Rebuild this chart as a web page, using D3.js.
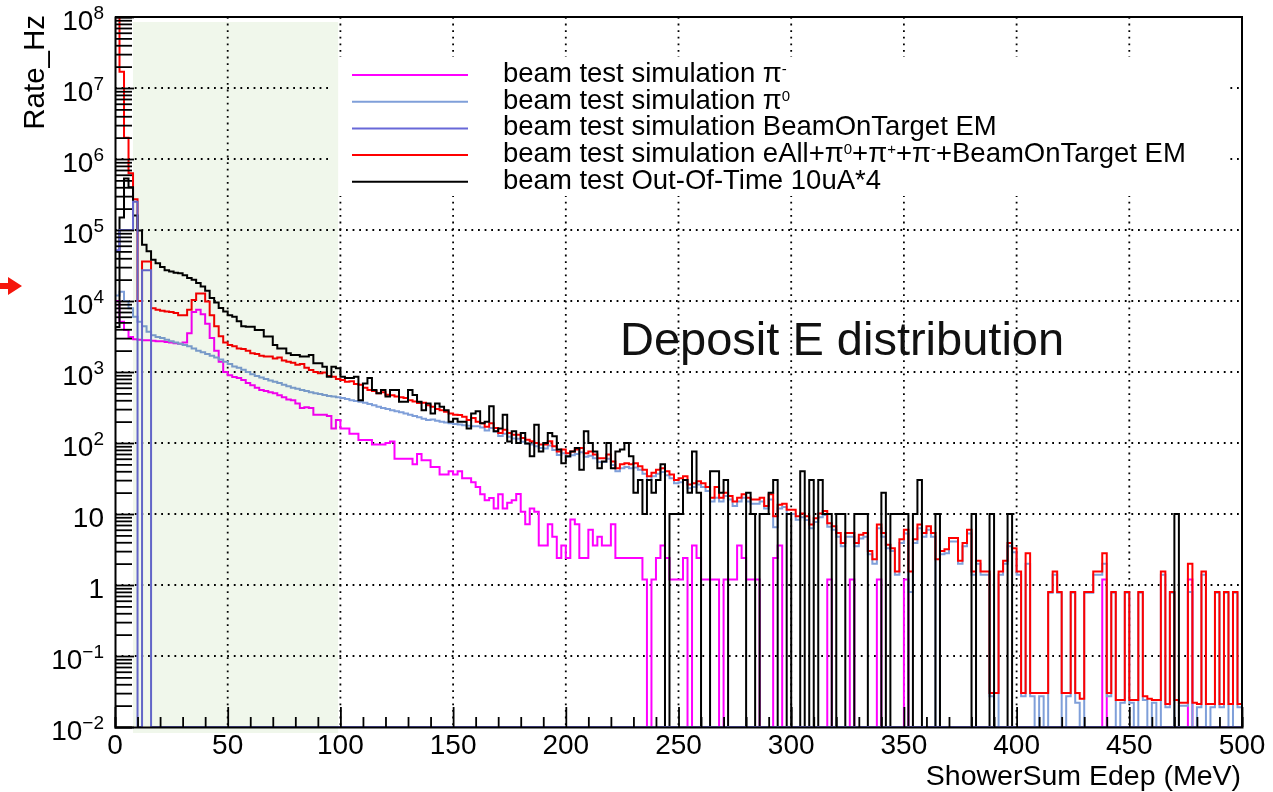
<!DOCTYPE html>
<html>
<head>
<meta charset="utf-8">
<script src="https://cdn.jsdelivr.net/npm/d3@7"></script>
<style>
  body { margin: 0; background: #fff; }
  svg { display: block; font-family: "Liberation Sans", Arial, sans-serif; }
</style>
</head>
<body>
<svg width="1273" height="792"></svg>
<script>
// histogram binning (MeV)
var binWidth = 2;

// beam test simulation pi-
var piMinus = [
  1.0e4, 5.1e3, 3.9e3, 3.1e3, 2.9e3, 2.85e3, 2.8e3, 2.8e3, 2.75e3, 2.7e3,
  2.7e3, 2.65e3, 2.6e3, 2.55e3, 2.5e3, 2.6e3, 3.5e3, 7.0e3, 7.5e3, 6.5e3,
  4.8e3, 3.0e3, 2.0e3, 1.4e3, 1.0e3, 900, 850, 820, 770, 700,
  650, 600, 560, 540, 520, 500, 470, 440, 410, 400,
  360, 310, 320, 310, 250, 250, 250, 240, 160, 210,
  160, 160, 135, 135, 110, 110, 110, 95, 95, 95,
  100, 105, 60, 60, 60, 60, 50, 70, 57, 57,
  46, 46, 36, 36, 40, 36, 40, 32, 32, 28,
  24, 19, 15.6, 16.8, 12, 19, 12, 14.4, 15.6, 19.2,
  10.8, 7.2, 12, 10.8, 3.6, 3.6, 7.2, 4.8, 2.4, 3.6,
  2.4, 8.4, 7.2, 2.4, 2.4, 6.0, 3.6, 4.8, 3.6, 3.6,
  7.2, 2.4, 2.4, 2.4, 2.4, 2.4, 2.4, 1.2, 0, 1.2,
  2.4, 3.6, 2.4, 1.2, 1.2, 1.2, 2.4, 0, 3.6, 2.4,
  1.2, 1.2, 1.2, 1.2, 0, 1.2, 1.2, 1.2, 3.6, 2.4,
  1.2, 1.2, 1.2, 0, 0, 0, 2.4, 3.6, 0, 0,
  0, 0, 0, 0, 0, 0, 0, 0, 1.2, 0,
  0, 0, 0, 1.2, 0, 0, 0, 0, 0, 1.2,
  0, 0, 0, 0, 0, 1.2, 0, 0, 0, 0,
  0, 0, 0, 0, 0, 0, 0, 0, 0, 0,
  0, 0, 0, 0, 0, 0, 0, 0, 0, 0,
  0, 0, 0, 0, 0, 0, 0, 0, 0, 0,
  0, 0, 0, 0, 0, 0, 0, 0, 0, 1.2,
  0, 0, 0, 0, 0, 0, 0, 0, 0, 0,
  0, 0, 0, 0, 0, 0, 0, 0, 1.2, 0,
  0, 0, 0, 0, 0, 0, 0, 0, 0, 0
];

// beam test simulation pi0
var piZero = [
  1.2e4, 1.35e4, 1.0e4, 7.9e3, 6.0e3, 5.1e3, 4.4e3, 3.7e3, 3.3e3, 3.1e3,
  3.0e3, 2.85e3, 2.7e3, 2.6e3, 2.5e3, 2.4e3, 2.3e3, 2.15e3, 2.0e3, 1.9e3,
  1.8e3, 1.7e3, 1.6e3, 1.5e3, 1.4e3, 1.3e3, 1.2e3, 1.15e3, 1.08e3, 1.0e3,
  930, 880, 840, 800, 760, 730, 700, 660, 630, 600,
  580, 560, 540, 520, 500, 490, 475, 460, 450, 440,
  430, 415, 400, 390, 380, 370, 355, 340, 325, 310,
  300, 290, 280, 270, 260, 250, 240, 230, 220, 210,
  215, 205, 200, 195, 190, 185, 182, 178, 175, 172,
  172, 165, 150, 162, 145, 125, 135, 122, 116, 115,
  104, 98, 95, 90, 85, 84, 92, 80, 68, 72,
  64, 67, 70, 74, 64, 66, 61, 54, 54, 60,
  49, 40, 44, 46, 44, 45, 42, 37, 30, 34,
  37, 39, 35, 32, 27, 28, 30, 23, 24, 26,
  24, 21, 15, 17, 15, 18, 16, 13, 15, 17,
  15, 14, 14, 15, 12, 16, 6.5, 12, 12.5, 10,
  10, 8.3, 9, 8.2, 6.3, 7.7, 9, 9.7, 6.6, 6.0,
  4.8, 3.5, 4.8, 4.8, 3.5, 4.5, 4.8, 2.7, 2.0, 6.3,
  4.8, 3.3, 3.0, 1.4, 3.9, 5.3, 0.8, 3.9, 6.3, 4.8,
  6.0, 4.8, 0, 2.7, 2.8, 4.1, 4.1, 2.0, 3.5, 5.3,
  1.4, 2.0, 1.4, 1.4, 0.027, 0, 1.4, 2.0, 3.5, 2.9,
  1.4, 0.027, 2.0, 0.027, 0, 0.027, 0, 0.78, 1.4, 0.78,
  0, 0.027, 0.78, 0.022, 0, 0.78, 0.78, 1.4, 1.4, 2.0,
  0.027, 0.78, 0, 0.022, 0.78, 0.022, 0, 0.78, 0.024, 0,
  0.022, 0, 1.4, 0.019, 0.78, 0, 0.02, 0.02, 0.8, 0,
  0.019, 1.4, 0, 0.019, 0.78, 0.019, 0.78, 0, 0.78, 0.019
];

// beam test simulation BeamOnTarget EM
var beamOnTarget = [
  5.2e4, 1e5, 1e5, 1e5, 2.5e5, 0, 2.7e4, 2.7e4, 0, 0
].concat(d3.range(240).map(function() { return 0; }));

// beam test simulation eAll+pi0+pi+ +pi- +BeamOnTarget EM
var sumAll = [
  3e8, 1.7e7, 2.0e6, 6.3e5, 2.7e5, 1.0e4, 3.6e4, 3.6e4, 7.9e3, 7.5e3,
  7.3e3, 7.1e3, 7.0e3, 6.8e3, 6.3e3, 6.3e3, 7.5e3, 1.03e4, 1.28e4, 1.28e4,
  9.8e3, 6.3e3, 4.4e3, 3.2e3, 2.6e3, 2.4e3, 2.3e3, 2.15e3, 2.1e3, 2.0e3,
  1830, 1800, 1700, 1650, 1650, 1550, 1600, 1450, 1400, 1350,
  1260, 1300, 1150, 1070, 1000, 960, 980, 880, 860, 800,
  770, 730, 740, 680, 660, 600, 560, 540, 500, 520,
  480, 470, 450, 440, 430, 400, 385, 365, 370, 340,
  325, 300, 290, 275, 260, 250, 248, 235, 210, 225,
  200, 190, 170, 190, 163, 138, 154, 138, 131, 131,
  118, 111, 106, 100, 95, 95, 106, 90, 76, 81,
  72, 76, 81, 85, 72, 76, 69, 61, 61, 69,
  55, 44, 50, 52, 50, 52, 47, 42, 34, 38,
  42, 44, 40, 36, 30, 32, 34, 26, 27, 29,
  27, 24, 17, 24, 17, 20, 18, 15, 17, 19,
  17, 16, 16, 17, 13, 19, 9.3, 13.5, 14, 11.5,
  11.5, 9.3, 10.2, 9.3, 7.1, 8.7, 10.2, 11, 7.4, 6.7,
  5.4, 3.9, 5.4, 5.4, 3.9, 5.1, 5.4, 3.0, 2.3, 7.1,
  5.4, 3.7, 3.3, 1.55, 4.4, 6.0, 1.55, 4.4, 7.1, 5.4,
  6.7, 5.4, 2.3, 3.0, 3.2, 4.6, 4.6, 2.2, 3.9, 6.0,
  1.55, 2.2, 1.55, 1.55, 0.03, 0.03, 1.55, 2.2, 3.9, 3.3,
  1.55, 0.03, 2.8, 0.03, 0.03, 0.03, 0.03, 0.8, 1.55, 0.8,
  0.03, 0.03, 0.8, 0.03, 0.025, 0.8, 0.8, 1.55, 1.55, 2.8,
  0.03, 0.8, 0.024, 0.024, 0.8, 0.024, 0.024, 0.8, 0.027, 0.025,
  0.024, 0.024, 1.55, 0.021, 0.8, 0.024, 0.022, 0.022, 2.0, 0.022,
  0.021, 1.55, 0.021, 0.021, 0.8, 0.021, 0.8, 0.021, 0.8, 0.021
];

// beam test Out-Of-Time 10uA*4
var outOfTime = [
  4.3e3, 1.5e5, 5.3e5, 4.0e5, 1.6e5, 9.8e4, 6.2e4, 5.0e4, 3.8e4, 3.4e4,
  3.0e4, 2.7e4, 2.6e4, 2.5e4, 2.45e4, 2.3e4, 2.1e4, 2.0e4, 1.8e4, 1.6e4,
  1.4e4, 1.1e4, 9.5e3, 8.0e3, 7.1e3, 6.3e3, 6.0e3, 5.2e3, 4.4e3, 4.35e3,
  4350, 3900, 3900, 3150, 3150, 2400, 2150, 2150, 1830, 1740,
  1740, 1650, 1650, 1740, 1330, 1330, 1190, 860, 1190, 1130,
  860, 820, 820, 860, 400, 690, 820, 560, 500, 560,
  450, 560, 560, 380, 380, 560, 475, 380, 290, 360,
  260, 360, 325, 290, 200, 220, 200, 200, 160, 260,
  280, 190, 200, 330, 146, 160, 250, 105, 146, 100,
  138, 98, 65, 181, 76, 100, 138, 124, 81, 52,
  65, 76, 85, 42, 146, 100, 76, 44, 55, 100,
  44, 76, 81, 100, 65, 20, 30, 10, 30, 20,
  30, 50, 0, 10, 10, 10, 30, 20, 76, 20,
  0, 0, 40, 40, 20, 30, 0, 0, 0, 0,
  20, 10, 0, 10, 10, 20, 30, 0, 0, 10,
  0, 0, 40, 0, 30, 0, 30, 10, 10, 0,
  10, 10, 0, 0, 10, 10, 10, 0, 0, 0,
  20, 0, 10, 10, 10, 10, 0, 10, 30, 0,
  0, 0, 10, 0, 0, 0, 0, 0, 0, 0,
  10, 0, 0, 0, 10, 0, 0, 0, 10, 0,
  0, 0, 0, 0, 0, 0, 0, 0, 0, 0,
  0, 0, 0, 0, 0, 0, 0, 0, 0, 0,
  0, 0, 0, 0, 0, 0, 0, 0, 0, 0,
  0, 0, 0, 0, 0, 10, 0, 0, 0, 0,
  0, 0, 0, 0, 0, 0, 0, 0, 0, 0
];

var legendLabels = [
  "beam test simulation π^{-}",
  "beam test simulation π^{0}",
  "beam test simulation BeamOnTarget EM",
  "beam test simulation eAll+π^{0}+π^{+}+π^{-}+BeamOnTarget EM",
  "beam test Out-Of-Time 10uA*4"
];
var xTicks = [0, 50, 100, 150, 200, 250, 300, 350, 400, 450, 500];
var yDecades = [1e-2, 1e-1, 1, 10, 1e2, 1e3, 1e4, 1e5, 1e6, 1e7, 1e8];
var yTickLabels = ["10^{−2}", "10^{−1}", "1", "10", "10^{2}", "10^{3}", "10^{4}", "10^{5}", "10^{6}", "10^{7}", "10^{8}"];
var highlight = [8, 99];   // shaded band, MeV

var svg = d3.select("svg");

var x = d3.scaleLinear().domain([0, 500]).range([115, 1242]);
var y = d3.scaleLog().domain([1e-2, 1e8]).range([727, 17]);
var yBottom = y(1e-2);
function yOf(v) { return v > 1e-2 ? y(v) : yBottom; }

// write "a^{b}" style labels as tspans
function richText(sel, label, supSize, supShift) {
  var parts = label.split(/(\^\{[^}]*\})/).filter(function(p) { return p.length; });
  var raised = false;
  parts.forEach(function(p) {
    var isSup = p.charAt(0) === "^";
    var t = sel.append("tspan").text(isSup ? p.slice(2, -1) : p);
    if (isSup) {
      t.attr("font-size", supSize).attr("dy", -supShift);
      raised = true;
    } else if (raised) {
      t.attr("dy", supShift);
      raised = false;
    }
  });
}

svg.append("defs").append("clipPath").attr("id", "plotclip")
  .append("rect")
  .attr("x", x(0)).attr("y", y(1e8) - 1)
  .attr("width", x(500) - x(0)).attr("height", yBottom - y(1e8) + 2);

// grid
var grid = svg.append("g")
  .attr("stroke", "#000").attr("stroke-width", 1.8)
  .attr("stroke-dasharray", "1.8 4.8").attr("fill", "none");
grid.selectAll(".gx").data(xTicks.slice(1, -1)).enter().append("line")
  .attr("x1", function(d) { return x(d); }).attr("x2", function(d) { return x(d); })
  .attr("y1", y(1e8)).attr("y2", yBottom);
grid.selectAll(".gy").data(yDecades.slice(1, -1)).enter().append("line")
  .attr("x1", x(0)).attr("x2", x(500))
  .attr("y1", function(d) { return y(d); }).attr("y2", function(d) { return y(d); });

// histograms
var series = [
  { values: piMinus, color: "#ff00ff" },
  { values: piZero, color: "#7f9fd9" },
  { values: sumAll, color: "#ff0000" },
  { values: outOfTime, color: "#000000" },
  { values: beamOnTarget, color: "#6868d8" }
];
var legendColors = ["#ff00ff", "#7f9fd9", "#6868d8", "#ff0000", "#000000"];

function stepPoints(vals) {
  var pts = [[x(0), yBottom]];
  vals.forEach(function(v, i) {
    var yy = yOf(v);
    pts.push([x(i * binWidth), yy], [x((i + 1) * binWidth), yy]);
  });
  pts.push([x(vals.length * binWidth), yBottom]);
  return pts;
}

var line = d3.line();
svg.append("g").attr("clip-path", "url(#plotclip)")
  .selectAll("path").data(series).enter().append("path")
  .attr("d", function(d) { return line(stepPoints(d.values)); })
  .attr("fill", "none")
  .attr("stroke", function(d) { return d.color; })
  .attr("stroke-width", 2)
  .attr("stroke-linejoin", "miter");

// legend
var lg = svg.append("g");
lg.append("rect").attr("x", 328).attr("y", 57).attr("width", 900).attr("height", 139).attr("fill", "#fff");
legendLabels.forEach(function(lab, i) {
  var ly = 75 + i * 26.7;
  lg.append("line").attr("x1", 352).attr("x2", 468).attr("y1", ly).attr("y2", ly)
    .attr("stroke", legendColors[i]).attr("stroke-width", 2);
  var t = lg.append("text").attr("x", 503).attr("y", ly + 7)
    .attr("font-size", 27.5).attr("fill", "#000");
  richText(t, lab, 15, 8);
});

// shaded band
svg.append("rect")
  .attr("x", x(highlight[0])).attr("width", x(highlight[1]) - x(highlight[0]))
  .attr("y", y(1e8) + 5).attr("height", yBottom - y(1e8) + 1)
  .attr("fill", "#f0f7eb")
  .style("mix-blend-mode", "multiply");

// axes
var yAxis = d3.axisLeft(y)
  .tickValues(d3.range(-2, 8).reduce(function(a, e) {
    for (var m = 1; m <= 9; m++) a.push(m * Math.pow(10, e));
    return a;
  }, []).concat([1e8]))
  .tickSize(-17).tickPadding(0).tickFormat("");
svg.append("g").attr("transform", "translate(" + x(0) + ",0)").call(yAxis)
  .call(function(g) {
    g.select(".domain").attr("stroke-width", 2);
    g.selectAll(".tick line").attr("stroke-width", 1.8)
      .attr("x2", function(d) { return Math.abs(Math.log10(d) - Math.round(Math.log10(d))) < 1e-9 ? 19 : 17; });
  });

var xAxis = d3.axisBottom(x).tickValues(d3.range(0, 501, 10)).tickSize(-10).tickFormat("");
svg.append("g").attr("transform", "translate(0," + yBottom + ")").call(xAxis)
  .call(function(g) {
    g.select(".domain").attr("stroke-width", 2);
    g.selectAll(".tick line").attr("stroke-width", 1.8)
      .attr("y2", function(d) { return d % 50 === 0 ? -20 : -10; });
  });

// frame top / right
svg.append("path")
  .attr("d", "M" + x(0) + "," + y(1e8) + "H" + x(500) + "V" + yBottom)
  .attr("fill", "none").attr("stroke", "#000").attr("stroke-width", 2);

// tick labels
svg.append("g").selectAll("text").data(xTicks).enter().append("text")
  .attr("x", function(d) { return x(d); }).attr("y", 754)
  .attr("text-anchor", "middle").attr("font-size", 28)
  .text(function(d) { return d; });

var yl = svg.append("g");
yDecades.forEach(function(d, i) {
  var t = yl.append("text").attr("x", 104).attr("y", y(d) + 13)
    .attr("text-anchor", "end").attr("font-size", 28);
  richText(t, yTickLabels[i], 19, 11);
});

// axis titles
svg.append("text").attr("transform", "translate(44," + 15 + ") rotate(-90)")
  .attr("text-anchor", "end").attr("font-size", 29.5).text("Rate_Hz");
svg.append("text").attr("x", 1241).attr("y", 785)
  .attr("text-anchor", "end").attr("font-size", 28.5).text("ShowerSum Edep (MeV)");

// annotation
svg.append("text").attr("x", 620).attr("y", 355)
  .attr("font-size", 47).attr("fill", "#111").text("Deposit E distribution");

// red arrow on the left margin
svg.append("path")
  .attr("d", "M0,283H8V277L22,286L8,295V289H0Z")
  .attr("fill", "#f5160c");
</script>
</body>
</html>
